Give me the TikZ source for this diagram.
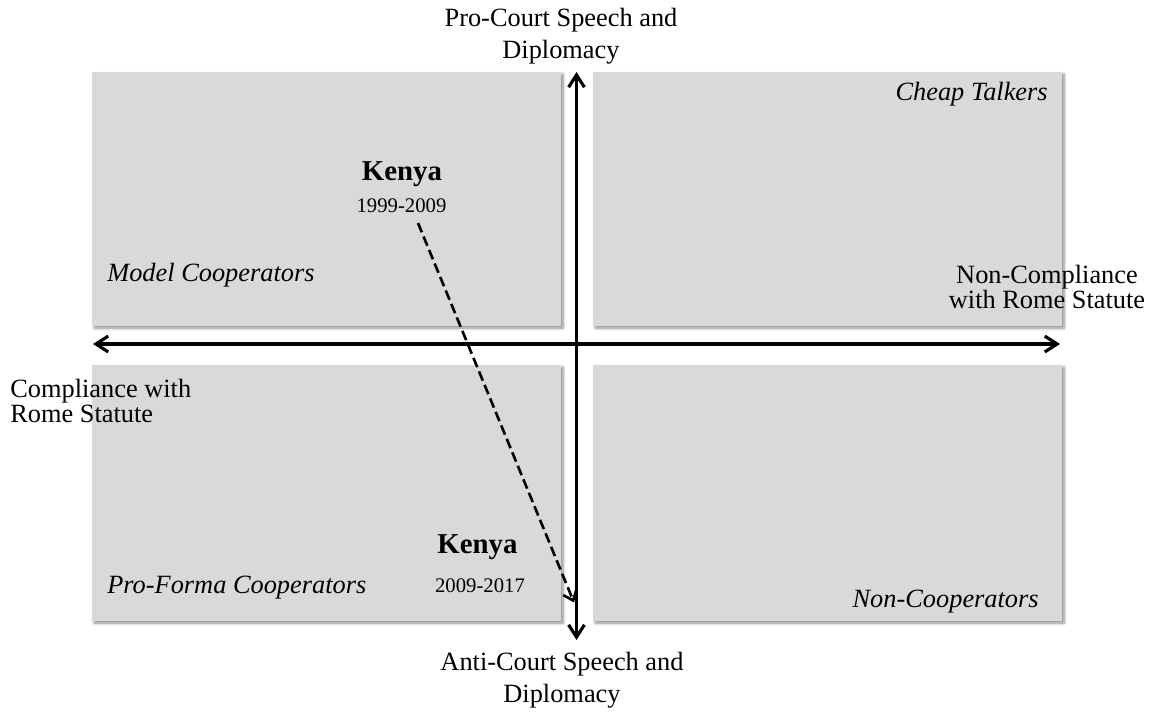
\documentclass[tikz,border=0pt]{standalone}
\usepackage{fontspec}
\setmainfont{Liberation Serif}
\usetikzlibrary{arrows.meta,shadows.blur}

\begin{document}
\begin{tikzpicture}[
    quadrant/.style={fill=black!15, draw=none, blur shadow={shadow xshift=1.2pt, shadow yshift=-1.2pt, shadow blur radius=1.5pt, shadow blur steps=6, shadow opacity=45}},
    axis/.style={line width=1.8pt, {Straight Barb[length=7pt,width=9pt]}-{Straight Barb[length=7pt,width=9pt]}},
    axislabel/.style={font=\fontsize{15}{18}\selectfont, inner sep=0pt},
    tightlabel/.style={font=\fontsize{15}{14.2}\selectfont, inner sep=0pt},
    typelabel/.style={font=\fontsize{15}{18}\selectfont\itshape, inner sep=0pt},
    country/.style={font=\fontsize{16.4}{19}\selectfont\bfseries, inner sep=0pt},
    period/.style={font=\fontsize{11.8}{14}\selectfont, inner sep=0pt}
  ]
    %%%%% START %%%%%
    \useasboundingbox (0, 0) rectangle (23.3, -14.34);

    \fill[quadrant] (1.84, -1.44) rectangle (11.22, -6.52);
    \fill[quadrant] (11.86, -1.44) rectangle (21.24, -6.52);
    \fill[quadrant] (1.84, -7.30) rectangle (11.22, -12.42);
    \fill[quadrant] (11.86, -7.30) rectangle (21.24, -12.42);

    \coordinate (top) at (11.53, -1.44);
    \coordinate (bottom) at (11.53, -12.8);
    \coordinate (left) at (1.86, -6.88);
    \coordinate (right) at (21.2, -6.88);
    \draw[axis] (bottom) -- (top);
    \draw[axis] (left) -- (right);

    \node[axislabel, align=center] (pro) at (11.22, -0.73) {Pro-Court Speech and\\Diplomacy};
    \node[axislabel, align=center] (anti) at (11.24, -13.61) {Anti-Court Speech and\\Diplomacy};
    \node[tightlabel, align=left, anchor=west] (comp) at (0.2, -8.02) {Compliance with\\Rome Statute};
    \node[tightlabel, align=center] (noncomp) at (20.94, -5.74) {Non-Compliance\\with Rome Statute};

    \node[typelabel, anchor=west] (model) at (2.14, -5.5) {Model Cooperators};
    \node[typelabel, anchor=base east] (cheap) at (20.96, -2.0) {Cheap Talkers};
    \node[typelabel, anchor=west] (proforma) at (2.14, -11.76) {Pro-Forma Cooperators};
    \node[typelabel, anchor=base east] (noncoop) at (20.78, -12.14) {Non-Cooperators};

    \node[country, anchor=base] (kenya1) at (8.04, -3.60) {Kenya};
    \node[period, anchor=base] (early) at (8.03, -4.25) {1999-2009};
    \node[country, anchor=base] (kenya2) at (9.55, -11.06) {Kenya};
    \node[period, anchor=base] (late) at (9.60, -11.84) {2009-2017};

    \coordinate (from) at (8.36, -4.46);
    \coordinate (to) at (11.48, -12.05);
    \draw[line width=1.5pt, dash pattern=on 5.7pt off 2.6pt, -{Straight Barb[length=5pt,width=8pt]}] (from) -- (to);

    %%%%% END %%%%%
\end{tikzpicture}
\end{document}
